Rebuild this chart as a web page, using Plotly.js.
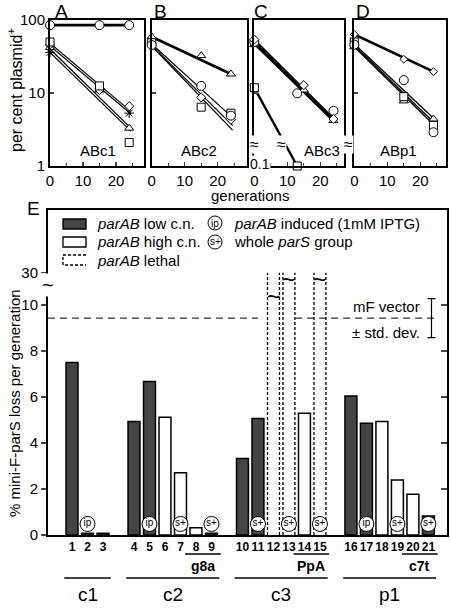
<!DOCTYPE html>
<html><head><meta charset="utf-8">
<script src="https://cdn.plot.ly/plotly-3.0.1.min.js"></script>
<style>html,body{margin:0;padding:0;background:#fff}#chart{width:450px;height:612px}</style>
</head><body><div id="chart"></div>
<script>
// ===== Panels A-D : per cent plasmid+ vs generations =====
const gens = [0, 15, 24];
const panelNames = ['ABc1', 'ABc2', 'ABc3', 'ABp1'];
const panelLetters = ['A', 'B', 'C', 'D'];
// Panel A
const A_circle = [85, 85, 85];
const A_square = [50, 12.5, 2.1];
const A_diamond = [46, 11, 6.6];
const A_triangle = [42, 11, 3.3];
const A_star = [36, 11.5, 5.3];
const A_fitStart = [85, 48, 44, 40, 36];
const A_fitEnd = [85, 5.6, 5.2, 3.3, 3.0];
// Panel B
const B_triangle = [59, 32.5, 18.2];
const B_circle = [45.5, 12.5, 4.9];
const B_diamond = [48, 8.7, 4.3];
const B_square = [50, 6.4, 5.3];
const B_fitStart = [59, 47, 45, 44];
const B_fitEnd = [18.2, 4.6, 3.6, 3.1];
// Panel C
const C_diamond = [54, 12.8, 4.4];
const C_circleGens = [0, 13, 24];
const C_circle = [50, 9.9, 5.7];
const C_triangle = [46, 11, 4.2];
const C_squareGens = [0, 13];
const C_square = [11.8, 0.1];
const C_fitStart = [54, 50, 47];
const C_fitEnd = [4.5, 4.3, 4.1];
// Panel D
const D_diamond = [63.5, 29, 19.6];
const D_circle = [46, 15, 2.9];
const D_square = [50, 8.9, 3.6];
const D_triangle = [43, 7.8, 4.4];
const D_fitStart = [63.5, 47, 45, 43];
const D_fitEnd = [19.6, 4.3, 3.8, 3.5];

// ===== Panel E : % mini-F-parS loss per generation =====
const barNumbers = [1,2,3,4,5,6,7,8,9,10,11,12,13,14,15,16,17,18,19,20,21];
const barGroupIdx = [0,0,0,1,1,1,1,1,1,2,2,2,2,2,2,3,3,3,3,3,3];
const barValues = [7.5,0.08,0.08,4.93,6.67,5.12,2.71,0.32,0.08,3.33,5.07,30,30,5.29,30,6.04,4.86,4.93,2.39,1.77,0.83];
const barKind = ['low','low','low','low','low','high','high','high','low','low','low','lethal','lethal','high','lethal','low','low','high','high','high','low'];
const ipBars = [2, 5, 17];
const sPlusBars = [7, 9, 11, 13, 15, 19, 21];
const groupNames = ['c1', 'c2', 'c3', 'p1'];
const groupFirst = [1, 4, 10, 16];
const groupLast = [3, 9, 15, 21];
const subNames = ['g8a', 'PpA', 'c7t'];
const subFirst = [8, 14, 20];
const subLast = [9, 15, 21];
const vectorMean = 9.43;
const vectorSD = 0.85;
const eTickVals = [0, 2, 4, 6, 8, 10, 30];
const topTickVals = [1, 10, 100];
const genTickVals = [0, 10, 20];

// ---------- helpers ----------
const FONT = 'Liberation Sans, Arial, Helvetica, sans-serif';
const W = 450, H = 612;
const PX = x => x / W;
const PY = y => 1 - y / H;
const pos = n => n - 1 + barGroupIdx[n - 1];
// broken axis mappings
const eDisp = v => v <= 10 ? v : 10 + (v - 10) * 0.07;
const cDisp = v => v < 1 ? v * 10 : v;
const DARK = '#444444';

const traces = [];
function fit(ax, s, e, w, xEnd) {
  traces.push({type:'scatter', mode:'lines', x:[0, xEnd], y:[s, e], xaxis:'x'+ax, yaxis:'y'+ax,
    line:{color:'black', width:w}, showlegend:false, hoverinfo:'skip', cliponaxis:false});
}
function mk(ax, xs, ys, symbol, size) {
  const isStar = symbol === 'asterisk-open';
  traces.push({type:'scatter', mode:'markers', x:xs, y:ys, xaxis:'x'+ax, yaxis:'y'+ax,
    marker:{symbol:symbol, size:size, color:isStar ? 'black' : 'white', line:{color:'black', width:1}},
    showlegend:false, cliponaxis:false});
}
// Panel A
A_fitStart.forEach((s, i) => fit('', s, A_fitEnd[i], i === 0 ? 2.6 : 1.2, i === 0 ? 24 : 24.5));
mk('', gens, A_star, 'asterisk-open', 8);
mk('', gens, A_triangle, 'triangle-up', 8);
mk('', gens, A_diamond, 'diamond', 7);
mk('', gens, A_square, 'square', 8);
mk('', gens, A_circle, 'circle', 9);
// Panel B
B_fitStart.forEach((s, i) => fit('2', s, B_fitEnd[i], i === 0 ? 2.6 : 1.2, i === 0 ? 24 : 24.5));
mk('2', gens, B_diamond, 'diamond', 7);
mk('2', gens, B_square, 'square', 8);
mk('2', gens, B_circle, 'circle', 9);
mk('2', gens, B_triangle, 'triangle-up', 8);
// Panel C
C_fitStart.forEach((s, i) => fit('3', s, C_fitEnd[i], 1.8, 24));
traces.push({type:'scatter', mode:'lines', x:C_squareGens, y:C_square.map(cDisp), xaxis:'x3', yaxis:'y3',
  line:{color:'black', width:2.4}, showlegend:false, cliponaxis:false});
mk('3', gens, C_triangle, 'triangle-up', 8);
mk('3', C_circleGens, C_circle, 'circle', 9);
mk('3', gens, C_diamond, 'diamond', 7);
mk('3', C_squareGens, C_square.map(cDisp), 'square', 8);
// Panel D
D_fitStart.forEach((s, i) => fit('4', s, D_fitEnd[i], i === 0 ? 2.6 : 1.4, i === 0 ? 24 : 24.5));
mk('4', gens, D_triangle, 'triangle-up', 8);
mk('4', gens, D_square, 'square', 8);
mk('4', gens, D_circle, 'circle', 9);
mk('4', gens, D_diamond, 'diamond', 6);

// Panel E bars
const BW = 0.77;
const solid = barNumbers.filter((n, i) => barKind[i] !== 'lethal');
traces.push({type:'bar', x:solid.map(pos), y:solid.map(n => barValues[n-1]), width:BW,
  xaxis:'x5', yaxis:'y5',
  marker:{color:solid.map(n => barKind[n-1] === 'low' ? DARK : 'white'), line:{color:'black', width:1.5}},
  showlegend:false});
// lethal (dashed, open-topped) bars
barNumbers.filter((n, i) => barKind[i] === 'lethal').forEach(n => {
  const top = eDisp(barValues[n-1]);
  [pos(n) - BW/2, pos(n) + BW/2].forEach(xx => {
    traces.push({type:'scatter', mode:'lines', x:[xx, xx], y:[0, top], xaxis:'x5', yaxis:'y5',
      line:{color:'black', width:1.3, dash:'3px,2px'}, showlegend:false, hoverinfo:'skip'});
  });
});
// mF vector mean line (dashed) and std dev
const xLeft = -1.55, xRight = 24.2;
[[xLeft, 12.0], [14.4, 23.6]].forEach(seg => {
  traces.push({type:'scatter', mode:'lines', x:seg, y:[vectorMean, vectorMean], xaxis:'x5', yaxis:'y5',
    line:{color:'black', width:1, dash:'7px,5px'}, showlegend:false, hoverinfo:'skip'});
});
traces.push({type:'scatter', mode:'markers', x:[23.2], y:[vectorMean], xaxis:'x5', yaxis:'y5',
  marker:{size:0.1, color:'rgba(0,0,0,0)'},
  error_y:{type:'constant', value:vectorSD, color:'black', thickness:1.2, width:4},
  showlegend:false});
// ip / s+ circles
function circ(list, label) {
  traces.push({type:'scatter', mode:'markers+text', x:list.map(pos), y:list.map(() => 0.48),
    xaxis:'x5', yaxis:'y5', text:list.map(() => label), textposition:'middle center',
    textfont:{family:FONT, size:10, color:'#000000'},
    marker:{symbol:'circle', size:15, color:'white', line:{color:'black', width:1}},
    showlegend:false, cliponaxis:false});
}
circ(ipBars, 'ip');
circ(sPlusBars, 's+');

// ---------- axes ----------
const topDomY = [PY(166), PY(20)];
const panelLeft = [50, 151.7, 254.3, 354.3];
const panelRight = [144, 246.5, 343.5, 446];
const pxPerGen = 3.3;
const layout = {
  width: W, height: H, margin:{l:0, r:0, t:0, b:0},
  paper_bgcolor:'white', plot_bgcolor:'rgba(0,0,0,0)',
  font:{family:FONT, size:15, color:'black'},
  showlegend:false, bargap:0,
  annotations:[], shapes:[]
};
['', '2', '3', '4'].forEach((k, i) => {
  layout['xaxis' + k] = {
    domain:[PX(panelLeft[i]), PX(panelRight[i])],
    range:[0, (panelRight[i] - panelLeft[i]) / pxPerGen],
    anchor:'y' + k, showline:true, mirror:true, linewidth:2, linecolor:'black',
    showgrid:false, zeroline:false, ticks:'inside', ticklen:4, tickwidth:1.3,
    tickvals:genTickVals, tickfont:{size:15},
    minor:{tickvals:[5, 15, 25], ticks:'inside', ticklen:3, tickwidth:1.2, showgrid:false}
  };
  layout['yaxis' + k] = {
    domain:topDomY, type:'log', range:[0, 2],
    anchor:'x' + k, showline:true, mirror:true, linewidth:2, linecolor:'black',
    showgrid:false, zeroline:false, ticks:'inside', ticklen:4, tickwidth:1.3,
    tickvals:topTickVals, ticktext:topTickVals.map(String),
    showticklabels: i === 0, tickfont:{size:15}
  };
});
layout.xaxis5 = {
  domain:[PX(48), PX(447)], range:[xLeft, xRight], anchor:'y5',
  showline:true, mirror:true, linewidth:2, linecolor:'black', showgrid:false, zeroline:false,
  ticks:'', tickvals:barNumbers.map(pos), ticktext:barNumbers.map(String),
  tickfont:{size:12, weight:'bold'}, tickangle:0
};
layout.yaxis5 = {
  domain:[PY(535), PY(210)], range:[0, (535 - 210) / 23], anchor:'x5',
  showline:true, mirror:true, linewidth:2, linecolor:'black', showgrid:false, zeroline:false,
  ticks:'outside', ticklen:5, tickwidth:1.3,
  tickvals:eTickVals.map(eDisp), ticktext:eTickVals.map(String), tickfont:{size:15}
};
layout.yaxis6 = {
  overlaying:'y5', side:'right', anchor:'x5', range:layout.yaxis5.range,
  showline:false, showgrid:false, zeroline:false, ticks:'inside', ticklen:6, tickwidth:1.3,
  tickvals:[2, 4, 6, 8, 10], showticklabels:false
};
traces.push({type:'scatter', x:[0], y:[0], xaxis:'x5', yaxis:'y6', mode:'markers',
  marker:{size:0.1, color:'rgba(0,0,0,0)'}, showlegend:false, hoverinfo:'skip'});

// ---------- annotations ----------
const A = layout.annotations, S = layout.shapes;
function txt(x, y, t, opt) {
  A.push(Object.assign({xref:'paper', yref:'paper', x:PX(x), y:PY(y), text:t, showarrow:false,
    xanchor:'center', yanchor:'middle', font:{family:FONT, size:15, color:'black'}}, opt || {}));
}
// panel letters
[61, 160, 261, 363].forEach((x, i) => txt(x, 11, panelLetters[i], {font:{family:FONT, size:19}}));
[97.5, 199, 321.7, 398].forEach((x, i) => txt(x, 150, panelNames[i], {font:{family:FONT, size:15}}));
txt(15, 90, 'per cent plasmid<sup>+</sup>', {textangle:-90, font:{family:FONT, size:16}});
txt(250, 196, 'generations');
txt(260, 164, '0.1', {bgcolor:'white', borderpad:0, font:{family:FONT, size:14}});
// break marks
txt(254.3, 144, '≈', {bgcolor:'white', borderpad:0, font:{family:FONT, size:16}});
txt(281, 144, '≈', {bgcolor:'white', borderpad:0, font:{family:FONT, size:16}});
txt(348.5, 144, '≈', {bgcolor:'white', borderpad:0, font:{family:FONT, size:16}});
// panel E
txt(33, 208, 'E', {font:{family:FONT, size:19}});
txt(14, 403, '% mini-F-parS loss per generation', {textangle:-90});
txt(48, 285, '~', {bgcolor:'white', borderpad:0, font:{family:FONT, size:20}});
// "~" on lethal bars
[[12, 297], [13, 280], [15, 280]].forEach(p => {
  A.push({xref:'x5', yref:'paper', x:pos(p[0]), y:PY(p[1]), text:'~', showarrow:false,
    xanchor:'center', yanchor:'middle', font:{family:FONT, size:23, color:'black'}});
});
// mF vector labels
txt(422, 306.5, 'mF vector', {xanchor:'right'});
txt(422, 332.5, '± std. dev.', {xanchor:'right'});
// legend
S.push({type:'rect', xref:'paper', yref:'paper', x0:PX(63), x1:PX(86), y0:PY(219), y1:PY(229),
  fillcolor:DARK, line:{color:'black', width:1.3}});
S.push({type:'rect', xref:'paper', yref:'paper', x0:PX(63), x1:PX(86), y0:PY(237), y1:PY(247),
  fillcolor:'white', line:{color:'black', width:1.3}});
S.push({type:'path', xref:'paper', yref:'paper',
  path:`M${PX(86)},${PY(255)} L${PX(63)},${PY(255)} L${PX(63)},${PY(265)} L${PX(86)},${PY(265)}`,
  line:{color:'black', width:1.3, dash:'3px,2px'}});
txt(95, 223, '<i>parAB</i> low c.n.', {xanchor:'left'});
txt(95, 242, '<i>parAB</i> high c.n.', {xanchor:'left'});
txt(95, 260, '<i>parAB</i> lethal', {xanchor:'left'});
[[223, 'ip'], [242, 's+']].forEach(p => {
  S.push({type:'circle', xref:'paper', yref:'paper', x0:PX(208), x1:PX(222), y0:PY(p[0]-7), y1:PY(p[0]+7),
    fillcolor:'white', line:{color:'black', width:1}});
  txt(215, p[0], p[1], {font:{family:FONT, size:10}});
});
txt(232, 223, '<i>parAB</i> induced (1mM IPTG)', {xanchor:'left'});
txt(232, 242, 'whole <i>parS</i> group', {xanchor:'left'});
// group lines and labels
groupNames.forEach((g, i) => {
  S.push({type:'line', xref:'x5', yref:'paper', x0:pos(groupFirst[i]) - 0.5, x1:pos(groupLast[i]) + 0.5,
    y0:PY(578), y1:PY(578), line:{color:'black', width:1.5}});
  A.push({xref:'x5', yref:'paper', x:(pos(groupFirst[i]) + pos(groupLast[i])) / 2, y:PY(594), text:g,
    showarrow:false, xanchor:'center', yanchor:'middle', font:{family:FONT, size:19, color:'black'}});
});
subNames.forEach((g, i) => {
  const x0 = pos(subFirst[i]) - 0.7, x1 = pos(subLast[i]) + 0.6;
  S.push({type:'line', xref:'x5', yref:'paper', x0:x0, x1:x1, y0:PY(554), y1:PY(554),
    line:{color:'black', width:1.5}});
  A.push({xref:'x5', yref:'paper', x:(x0 + x1) / 2, y:PY(566), text:'<b>' + g + '</b>',
    showarrow:false, xanchor:'center', yanchor:'middle', font:{family:FONT, size:14, color:'black'}});
});

Plotly.newPlot('chart', traces, layout, {staticPlot:true, displayModeBar:false});
</script></body></html>
